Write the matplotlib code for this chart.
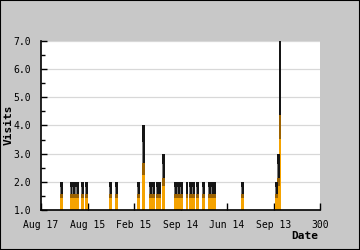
import numpy as np
import matplotlib
matplotlib.use("Agg")
import matplotlib.pyplot as plt
from matplotlib.patches import Rectangle

days = [22, 33, 35, 38, 39, 45, 49, 75, 81, 105, 110,
        118, 121, 125, 128, 132,
        145, 148, 151, 157, 161, 164, 168, 175, 181, 184, 187,
        217, 253, 255, 257]
visits = [2, 2, 2, 2, 2, 2, 2, 2, 2, 2, 4,
          2, 2, 2, 2, 3,
          2, 2, 2, 2, 2, 2, 2, 2, 2, 2, 2,
          2, 2, 3, 7]

x_ticks = [0, 50, 100, 150, 200, 250, 300]
x_labels = ['Aug 17', 'Aug 15', 'Feb 15', 'Sep 14', 'Jun 14', 'Sep 13', '300']
y_ticks = [1, 2, 3, 4, 5, 6, 7]


def main():
    fig = plt.figure(figsize=(3.6, 2.5), dpi=100, facecolor='#c8c8c8')
    ax = fig.add_axes([41 / 360, 1 - 210 / 250, 279 / 360, 169 / 250])
    ax.set_facecolor('white')

    d = np.array(days, dtype=float)
    v = np.array(visits, dtype=float)
    h = v - 1
    w = 3.0

    # spikes: orange at the foot, fading to black towards the top
    ax.bar(d, h * 0.42, width=w, bottom=1, color='#f5a300', linewidth=0, zorder=3)
    ax.bar(d, h * 0.14, width=w, bottom=1 + h * 0.42, color='#9c6200', linewidth=0, zorder=3)
    ax.bar(d, h * 0.44, width=w, bottom=1 + h * 0.56, color='#151515', linewidth=0, zorder=3)
    ax.bar(d - w * 0.35, h * 0.25, width=w * 0.3, bottom=1 + h * 0.56, color='#7a7a7a',
           linewidth=0, zorder=3)

    ax.set_xlim(0, 300)
    ax.set_ylim(1, 7)
    ax.set_xticks(x_ticks)
    ax.set_xticklabels(x_labels)
    ax.set_yticks(y_ticks)
    ax.set_yticklabels([f'{t:.1f}' for t in y_ticks])
    ax.set_yticks(np.arange(1.5, 7, 1), minor=True)

    ax.grid(axis='y', color='#d8d8d8', linewidth=0.9, zorder=0)
    ax.set_axisbelow(True)
    for s in ['top', 'right']:
        ax.spines[s].set_visible(False)
    for s in ['left', 'bottom']:
        ax.spines[s].set_linewidth(1.2)
        ax.spines[s].set_zorder(5)

    ax.tick_params(axis='x', direction='in', length=5, width=1, pad=7,
                   labelsize=7, labelfontfamily='DejaVu Sans Mono')
    ax.tick_params(axis='y', which='major', direction='in', length=4, width=1, pad=7,
                   labelsize=7, labelfontfamily='DejaVu Sans Mono')
    ax.tick_params(axis='y', which='minor', direction='in', length=3, width=1)

    fig.text(9 / 360, 1 - 125 / 250, 'Visits', rotation=90, ha='center', va='center',
             fontsize=8, fontweight='bold', family='DejaVu Sans Mono')
    fig.text(305 / 360, 1 - 236 / 250, 'Date', ha='center', va='center',
             fontsize=8, fontweight='bold', family='DejaVu Sans Mono')

    fig.patches.append(Rectangle((0, 0), 1, 1, transform=fig.transFigure, fill=False,
                                 edgecolor='black', linewidth=1.5))

    fig.savefig('out.png', dpi=100, facecolor=fig.get_facecolor())


if __name__ == '__main__':
    main()
